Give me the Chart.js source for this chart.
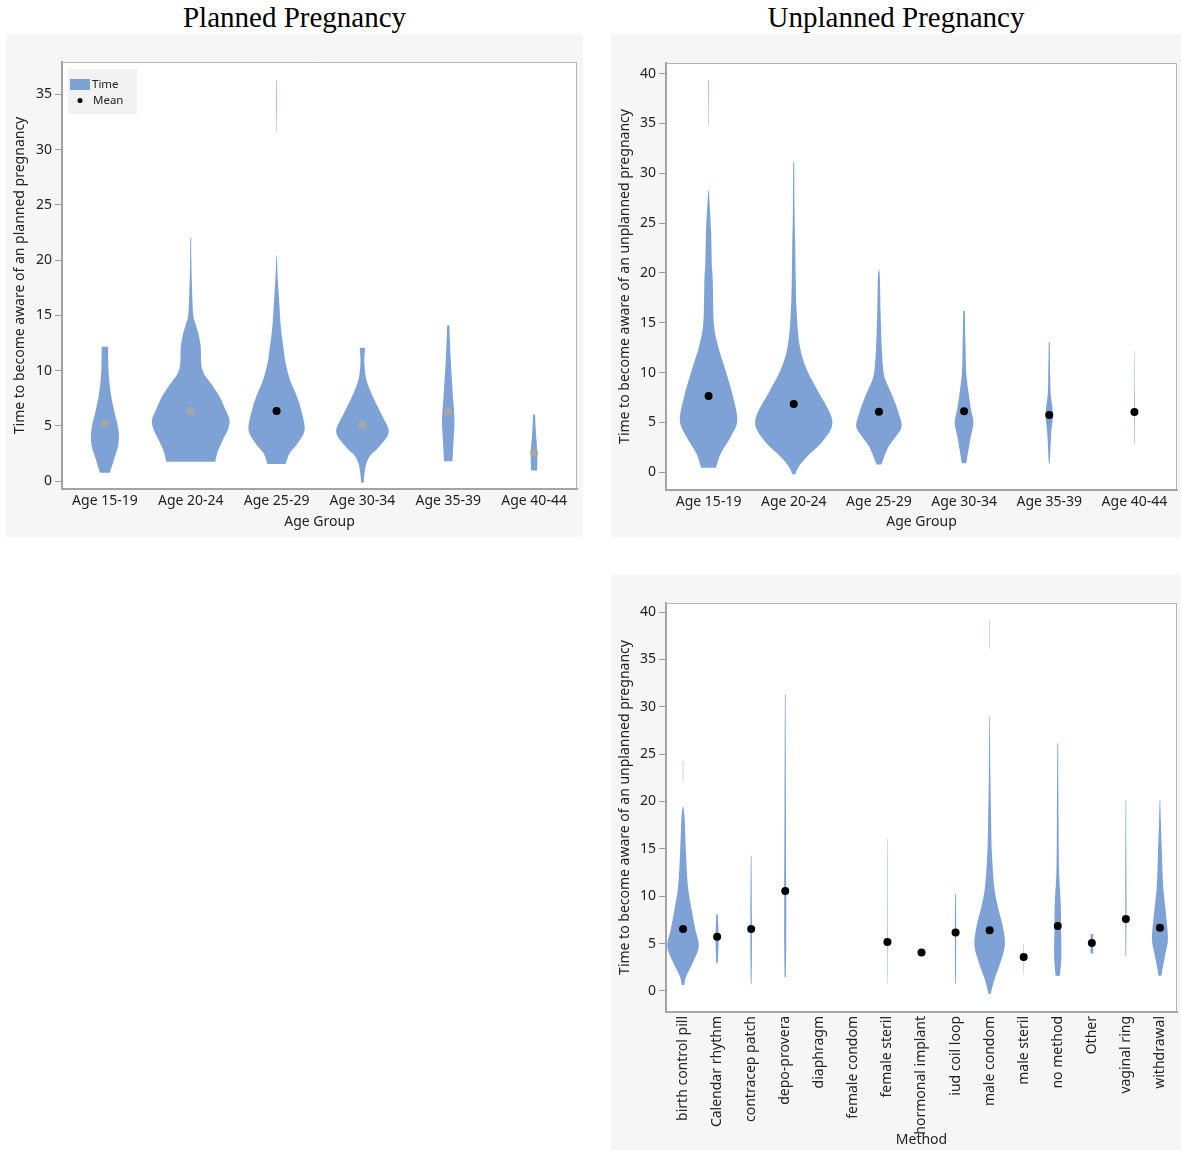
<!DOCTYPE html>
<html>
<head>
<meta charset="utf-8">
<script src="https://cdn.jsdelivr.net/npm/chart.js@4.4.0/dist/chart.umd.min.js"></script>
<style>
  body { margin: 0; background: #fff; width: 1181px; height: 1150px; position: relative; overflow: hidden; }
  .title { position: absolute; top: 3px; font-family: "Liberation Serif", "Times New Roman", serif; font-size: 29px; line-height: 1; color: #000; text-align: center; }
  .panel { position: absolute; background: #f6f6f6; }
  .panel canvas { display: block; }
</style>
</head>
<body>
<div class="title" style="left:6px;width:577px">Planned Pregnancy</div>
<div class="title" style="left:611px;width:570px">Unplanned Pregnancy</div>
<div class="panel" style="left:6px;top:34px;width:577px;height:503px"><canvas id="planned" width="577" height="503"></canvas></div>
<div class="panel" style="left:611px;top:34px;width:570px;height:503px"><canvas id="unplannedAge" width="570" height="503"></canvas></div>
<div class="panel" style="left:611px;top:575px;width:570px;height:575px"><canvas id="unplannedMethod" width="570" height="575"></canvas></div>

<script>
const ageGroups = ['Age 15-19', 'Age 20-24', 'Age 25-29', 'Age 30-34', 'Age 35-39', 'Age 40-44']
const methods = ['birth control pill', 'Calendar rhythm', 'contracep patch', 'depo-provera', 'diaphragm',
  'female condom', 'female steril', 'hormonal implant', 'iud coil loop', 'male condom', 'male steril',
  'no method', 'Other', 'vaginal ring', 'withdrawal']

const plannedMeans = [5.2, 6.33, 6.33, 5.07, 6.24, 2.56]
const unplannedAgeMeans = [7.65, 6.85, 6.08, 6.12, 5.75, 6.05]
const methodMeans = [6.54, 5.73, 6.54, 10.55, null, null, 5.17, 4.05, 6.16, 6.4, 3.59, 6.86, 5.06, 7.6, 6.68]

// violin outlines: [time, half width in % of the category slot], a null width breaks the shape
const plannedViolins = [
  [[0.75, 5.8], [2.2, 11.6], [3.2, 15.5], [4.2, 16.3], [5.2, 14.5], [6.1, 11.6], [7.6, 7.5], [9.1, 5.0], [10.5, 4.0], [12.15, 3.7]],
  [[1.75, 28.5], [2.65, 31.4], [3.7, 37.2], [4.6, 43.0], [5.5, 45.3], [6.4, 40.7], [7.63, 33.7], [8.85, 23.3], [9.75, 15.1],
   [10.65, 12.2], [12.15, 11.6], [13.4, 8.7], [14.3, 5.2], [15.2, 2.7], [18.2, 1.2], [20, 0.7], [22.05, 0.5]],
  [[1.54, 10.5], [2.5, 15.1], [3.4, 24.4], [4.6, 32.6], [6.12, 29.7], [7.63, 23.8], [9.14, 15.7], [10.65, 10.5], [12.15, 7.8],
   [13.7, 5.2], [15.2, 3.8], [16.7, 2.7], [18.2, 1.4], [20.4, 0.3], [25, null], [31.5, 0.2], [34, 0.4], [36.3, 0.3]],
  [[-0.15, 1.4], [0.8, 2.6], [1.6, 4.7], [2.3, 9.0], [3.1, 19.4], [4.46, 30.6], [6.12, 21.7], [7.63, 12.2], [9.14, 4.7],
   [10.65, 2.3], [12.06, 3.1]],
  [[1.8, 4.9], [3.7, 6.2], [5.5, 7.3], [7.63, 5.5], [10.65, 3.1], [14.1, 1.2]],
  [[0.96, 3.5], [2.5, 3.8], [4.6, 2.0], [6.03, 1.2]]
]

const unplannedAgeViolins = [
  [[0.46, 8.7], [1.9, 14.5], [3.6, 26.2], [5.2, 33.7], [7.6, 28.7], [10.25, 19.8], [12.6, 11.3], [14.95, 6.2], [19.3, 4.9],
   [20.96, 3.8], [24.3, 2.9], [28.3, 0.4], [31, null], [34.8, 0.3], [39.35, 0.4]],
  [[-0.2, 1.7], [0.55, 5.8], [1.55, 15.5], [3.2, 34.9], [5.2, 45.3], [8.25, 27.6], [10.25, 15.5], [12.6, 7.2], [15.95, 3.5],
   [19.3, 2.3], [22.6, 1.8], [25.97, 1.0], [31.1, 0.6]],
  [[0.77, 2.9], [1.2, 4.7], [2.6, 11.6], [3.6, 20], [4.6, 26.7], [5.9, 23.3], [7.2, 18], [8.25, 12.8], [9.3, 7.5],
   [10.25, 5.2], [12.6, 3.3], [15.95, 2.0], [19.3, 1.2], [20.3, 0.5]],
  [[0.9, 2.6], [3.3, 7.3], [4.96, 11.0], [6.3, 8.1], [8.0, 5.2], [9.9, 2.6], [12.6, 1.7], [16.18, 1.0]],
  [[0.9, 0.6], [3.9, 2.3], [5.8, 4.3], [7.6, 2.0], [9.26, 1.2], [13.07, 0.6]],
  [[2.7, 0.3], [7, 0.4], [9, 0.25], [12.2, 0.2]]
]

const methodViolins = [
  [[0.63, 3.8], [1.5, 8.8], [2.93, 27.8], [4.68, 46.2], [6.44, 36.5], [8.5, 25.7], [10.97, 14.6], [14.5, 8.8], [18.05, 5.0],
   [19.45, 1.2], [20.8, null], [22.1, 0.7], [24.3, 0.7]],
  [[2.93, 2.2], [5.5, 4.5], [8.09, 2.2]],
  [[0.7, 1.2], [4, 2.2], [8, 2.2], [14.28, 1.0]],
  [[1.44, 1.8], [5, 3.0], [10, 3.0], [20, 2.0], [31.35, 1.0]],
  [],
  [],
  [[0.8, 0.5], [5, 0.8], [16.1, 0.5]],
  [],
  [[0.8, 1.2], [6, 2.0], [10.24, 1.2]],
  [[-0.32, 2.9], [1.16, 13.7], [2.9, 30.7], [4.8, 44.7], [6.75, 38.9], [8.86, 24.3], [10.97, 13.7], [14.5, 6.7], [18.05, 4.4],
   [23, 2.2], [29.0, 0.9], [32, null], [36.1, 0.6], [39.15, 0.6]],
  [[1.87, 0.6], [4.98, 0.6]],
  [[1.6, 6.4], [3.8, 10.8], [6.75, 9.6], [9.2, 8.8], [12.8, 3.8], [18.05, 2.5], [26.14, 1.2]],
  [[3.96, 3.8], [6.0, 3.8]],
  [[3.7, 1.2], [10, 1.8], [20.16, 0.9]],
  [[1.6, 4.4], [2.4, 7.9], [3.8, 15.2], [5.5, 23.4], [8.16, 17.5], [10.97, 9.6], [14.5, 5.8], [18.05, 2.5], [20.16, 1.0]]
]

const violinColor = '#7ea2d6'

Chart.defaults.font.family = '"Noto Sans", "DejaVu Sans", sans-serif'
Chart.defaults.font.size = 14
Chart.defaults.color = '#222'

// split an outline into the parts between null widths
function pieces(shape) {
  const out = [[]]
  shape.forEach(([v, w]) => {
    if (w === null) out.push([])
    else out[out.length - 1].push([v, w])
  })
  return out.filter(p => p.length > 1)
}

// catmull-rom through the points of one side, control points kept on that side
function traceSide(ctx, pts, cx, side, first) {
  if (first) ctx.moveTo(pts[0].x, pts[0].y)
  else ctx.lineTo(pts[0].x, pts[0].y)
  const keep = x => side < 0 ? Math.min(x, cx) : Math.max(x, cx)
  const clampY = (y, a, b) => Math.min(Math.max(y, Math.min(a, b)), Math.max(a, b))
  for (let k = 0; k < pts.length - 1; k++) {
    const p0 = pts[k - 1] || pts[k], p1 = pts[k], p2 = pts[k + 1], p3 = pts[k + 2] || pts[k + 1]
    ctx.bezierCurveTo(
      keep(p1.x + (p2.x - p0.x) / 6), clampY(p1.y + (p2.y - p0.y) / 6, p1.y, p2.y),
      keep(p2.x - (p3.x - p1.x) / 6), clampY(p2.y - (p3.y - p1.y) / 6, p1.y, p2.y),
      p2.x, p2.y)
  }
}

function violinPlugin(shapes) {
  return {
    id: 'violins',
    beforeDatasetsDraw(chart) {
      const { ctx, chartArea: a, scales: { x, y } } = chart
      const slot = x.getPixelForValue(1) - x.getPixelForValue(0)
      ctx.save()
      ctx.beginPath()
      ctx.rect(a.left, a.top, a.width, a.height)
      ctx.clip()
      ctx.fillStyle = violinColor
      shapes.forEach((shape, i) => {
        const cx = x.getPixelForValue(i)
        pieces(shape).forEach(piece => {
          const left = piece.map(([v, w]) => ({ x: cx - w / 100 * slot, y: y.getPixelForValue(v) }))
          const right = piece.map(([v, w]) => ({ x: cx + w / 100 * slot, y: y.getPixelForValue(v) })).reverse()
          ctx.beginPath()
          traceSide(ctx, left, cx, -1, true)
          traceSide(ctx, right, cx, 1, false)
          ctx.closePath()
          ctx.fill()
        })
      })
      ctx.restore()
    }
  }
}

const framePlugin = {
  id: 'frame',
  beforeDraw(chart) {
    const { ctx, chartArea: a } = chart
    ctx.save()
    ctx.fillStyle = '#fff'
    ctx.fillRect(a.left, a.top, a.width, a.height)
    ctx.restore()
  },
  afterDraw(chart) {
    const { ctx, chartArea: a } = chart
    ctx.save()
    ctx.strokeStyle = '#b4b4b4'
    ctx.lineWidth = 1
    ctx.beginPath()
    ctx.moveTo(a.left, a.top + 0.5)
    ctx.lineTo(a.right - 0.5, a.top + 0.5)
    ctx.lineTo(a.right - 0.5, a.bottom)
    ctx.stroke()
    ctx.restore()
  }
}

// small Time / Mean key in the corner of the planned chart
const keyPlugin = {
  id: 'key',
  afterDraw(chart) {
    const { ctx, chartArea: a } = chart
    ctx.save()
    ctx.fillStyle = '#f2f2f2'
    ctx.fillRect(a.left + 6, a.top + 7, 69, 45)
    ctx.fillStyle = violinColor
    ctx.fillRect(a.left + 8, a.top + 17, 20, 11)
    ctx.fillStyle = '#000'
    ctx.beginPath()
    ctx.arc(a.left + 18, a.top + 38.5, 2.5, 0, Math.PI * 2)
    ctx.fill()
    ctx.fillStyle = '#222'
    ctx.font = '11.5px "Noto Sans", sans-serif'
    ctx.textBaseline = 'middle'
    ctx.fillText('Time', a.left + 30, a.top + 23)
    ctx.fillText('Mean', a.left + 31, a.top + 39)
    ctx.restore()
  }
}

function violinChart(id, o) {
  return new Chart(document.getElementById(id), {
    type: 'line',
    data: {
      labels: o.labels,
      datasets: [{
        label: 'Mean',
        data: o.means,
        showLine: false,
        pointRadius: 4,
        pointHoverRadius: 4,
        pointBorderWidth: 0,
        pointBackgroundColor: o.meanColors || '#000'
      }]
    },
    options: {
      responsive: false,
      animation: false,
      events: [],
      layout: { padding: { top: o.padTop, right: o.padRight, left: 0, bottom: 0 } },
      plugins: { legend: { display: false }, tooltip: { enabled: false } },
      scales: {
        x: {
          offset: true,
          grid: { display: false, drawTicks: false },
          border: { display: true, color: '#a3a3a3', width: 2 },
          ticks: { autoSkip: false, padding: 4, minRotation: o.rotate || 0, maxRotation: o.rotate || 0 },
          title: { display: true, text: o.xTitle, padding: { top: 0, bottom: o.xTitlePad } },
          afterFit: s => { s.height = o.xHeight }
        },
        y: {
          min: o.yMin,
          max: o.yMax,
          grid: { display: true, drawOnChartArea: false, drawTicks: true, tickLength: 7, color: '#9a9a9a' },
          border: { display: true, color: '#a3a3a3', width: 2 },
          ticks: { stepSize: 5, includeBounds: false, padding: 3 },
          title: { display: true, text: o.yTitle, padding: { top: 6, bottom: 0 } },
          afterFit: s => { s.width = o.yWidth }
        }
      }
    },
    plugins: [framePlugin, violinPlugin(o.shapes)].concat(o.extra || [])
  })
}

violinChart('planned', {
  labels: ageGroups, means: plannedMeans, shapes: plannedViolins,
  meanColors: ['#a6a6a6', '#a6a6a6', '#000', '#a6a6a6', '#a6a6a6', '#a6a6a6'],
  yMin: -0.72, yMax: 37.92, yWidth: 56, xHeight: 48, padTop: 28, padRight: 6, xTitlePad: 7,
  xTitle: 'Age Group', yTitle: 'Time to become aware of an planned pregnancy',
  extra: [keyPlugin]
})

violinChart('unplannedAge', {
  labels: ageGroups, means: unplannedAgeMeans, shapes: unplannedAgeViolins,
  yMin: -1.78, yMax: 41.07, yWidth: 55, xHeight: 47, padTop: 29, padRight: 0, xTitlePad: 7,
  xTitle: 'Age Group', yTitle: 'Time to become aware of an unplanned pregnancy'
})

violinChart('unplannedMethod', {
  labels: methods, means: methodMeans, shapes: methodViolins, rotate: 90,
  yMin: -2.22, yMax: 40.95, yWidth: 55, xHeight: 138, padTop: 28, padRight: 2, xTitlePad: 2,
  xTitle: 'Method', yTitle: 'Time to become aware of an unplanned pregnancy'
})
</script>
</body>
</html>
